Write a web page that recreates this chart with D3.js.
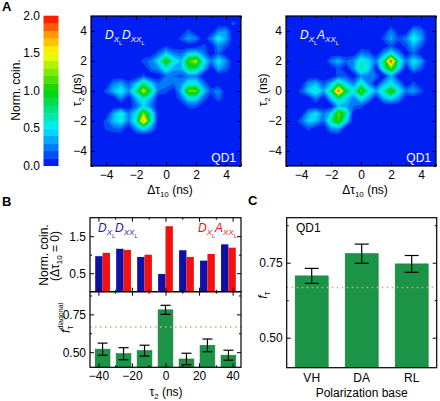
<!DOCTYPE html>
<html><head><meta charset="utf-8">
<script src="https://cdn.jsdelivr.net/npm/d3@7"></script>
<style>
body{margin:0;background:#fff}
svg text{font-family:"Liberation Sans",Arial,Helvetica,sans-serif}
</style>
</head><body>
<svg id="c" width="440" height="401"></svg>
<script>
// ---------------- DATA ----------------
const colorLevels = [0,0.1,0.2,0.3,0.4,0.5,0.6,0.7,0.8,0.9,1.0,1.1,1.2,1.3,1.4,1.5,1.6,1.7,1.8,1.9,2.0];
const colorbarTicks = [0,0.5,1.0,1.5,2.0];
const heatGrid = [-5,-4.5,-4,-3.5,-3,-2.5,-2,-1.5,-1,-0.5,0,0.5,1,1.5,2,2.5,3,3.5,4,4.5,5];
const heatTicks = [-4,-2,0,2,4];
const heatMinor = [-5,-3,-1,1,3,5];
// [Δτ10, τ2, normalized coincidences]  (non-listed grid points = 0)
const mapDD = [
  [-1.5,0,1.4],[-1,0,0.8],[-2,0,0.7],[-1.5,0.5,0.8],[-1.5,-0.5,0.65],[-1,0.5,0.45],[-2,0.5,0.4],[-1,-0.5,0.35],[-2,-0.5,0.35],[-0.5,0,0.2],[-2.5,0,0.3],[-1.5,1,0.15],
  [0,2,1.1],[0.5,2,0.6],[-0.5,2,0.5],[0,1.5,0.6],[0,2.5,0.45],[0.5,1.5,0.35],[-0.5,1.5,0.3],[0.5,2.5,0.25],[-0.5,2.5,0.2],[0,1,0.2],[0,3,0.1],[-1,2,0.25],[1,2,0.35],
  [2,2,1.35],[1.5,2,1.1],[1.5,1.5,0.85],[2,1.5,0.8],[2.5,2,0.55],[1,2,0.4],[2,2.5,0.5],[1.5,2.5,0.45],[1,1.5,0.35],[2.5,1.5,0.4],[2.5,2.5,0.25],[1,2.5,0.2],[1.5,1,0.25],[2,1,0.25],
  [2,0,1.2],[1.5,0,1.2],[2,0.5,0.55],[1.5,0.5,0.55],[2,-0.5,0.5],[1.5,-0.5,0.5],[2.5,0,0.45],[1,0,0.4],[2.5,0.5,0.25],[1,0.5,0.3],[2.5,-0.5,0.2],[1,-0.5,0.2],[1.5,-1,0.15],[2,-1,0.15],
  [-1.5,-2,1.8],[-1.5,-1.5,1.25],[-1,-2,0.65],[-2,-2,0.6],[-1,-1.5,0.65],[-2,-1.5,0.5],[-1.5,-1,0.45],[-1.5,-2.5,0.5],[-1,-1,0.25],[-2,-1,0.2],[-1,-2.5,0.3],[-2,-2.5,0.3],
  [-1,1.5,0.2],[-1.5,2,0.15],
  [-0.5,0.5,0.2],[0,0.5,0.25],[0.5,0.5,0.2],[0,0,0.15],[0.5,1,0.2],[1,1,0.15],
  [-3,0,0.55],[-3.5,0,0.4],[-3,0.5,0.35],[-3.5,0.5,0.25],[-3,-0.5,0.25],[-2.5,0.5,0.15],[-4,0,0.15],
  [-3,-1.5,0.6],[-3,-2,0.55],[-3.5,-2,0.4],[-3.5,-1.5,0.35],[-2.5,-1.5,0.25],[-2.5,-2,0.25],[-3.5,-2.5,0.2],[-4,-2.5,0.12],[-3,-2.5,0.2],[-4,-2,0.15],
  [3.5,3.5,0.55],[3.5,3,0.3],[4,3.5,0.35],[3,3.5,0.25],[4,4,0.3],[3.5,4,0.25],[4.5,4.5,0.15],[4,3,0.15],
  [1.5,3.5,0.35],[2,3.5,0.25],[1.5,4,0.15],[1,3.5,0.15],
  [2.5,3,0.15],
  [3.5,2,0.5],[3.5,1.5,0.35],[4,2,0.3],[3,2,0.25],[4,1.5,0.2],[3.5,2.5,0.2],
  [3.5,0,0.3],[3.5,-0.5,0.2],[3,0,0.15]
];
const mapDA = [
  [-1.5,0,1.95],[-1,0,0.9],[-2,0,0.75],[-1.5,0.5,0.8],[-1.5,-0.5,0.75],[-1,0.5,0.45],[-2,0.5,0.4],[-1,-0.5,0.45],[-2,-0.5,0.4],[-2.5,0,0.35],[-0.5,0,0.55],[-1.5,1,0.15],[-1.5,-1,0.4],
  [0,0,1.2],[0.5,0,0.6],[0,0.5,0.6],[0,-0.5,0.55],[0.5,0.5,0.3],[-0.5,0.5,0.25],[0.5,-0.5,0.3],[-0.5,-0.5,0.25],[1,0,0.35],[0,1,0.3],[0,-1,0.15],
  [2,0,1.15],[1.5,0,0.65],[2.5,0,0.55],[2,0.5,0.5],[2,-0.5,0.5],[1.5,-0.5,0.35],[2.5,-0.5,0.3],[1.5,0.5,0.35],[2.5,0.5,0.3],[3,0,0.25],
  [2,2,2.0],[2,1.5,1.15],[1.5,2,0.75],[2.5,2,0.65],[1.5,1.5,0.65],[2.5,1.5,0.5],[2,2.5,0.55],[1.5,2.5,0.3],[2.5,2.5,0.3],[2,1,0.35],[1,2,0.25],[3,2,0.25],[2,3,0.15],
  [0,2,0.6],[0,1.5,0.7],[0.5,1.5,0.5],[0.5,2,0.45],[-0.5,1.5,0.3],[-0.5,2,0.3],[0,2.5,0.25],[0.5,2.5,0.2],[0.5,1,0.25],
  [-1.5,-1.5,1.2],[-1.5,-2,1.1],[-1,-1.5,0.75],[-1,-2,0.5],[-2,-2,0.7],[-2,-1.5,0.45],[-1.5,-2.5,0.35],[-1,-1,0.35],[-2,-2.5,0.3],[-0.5,-1,0.2],[-2.5,-2,0.2],
  [-3,0,0.6],[-3.5,0,0.45],[-3,0.5,0.4],[-3.5,0.5,0.3],[-3,-0.5,0.25],[-4,0,0.15],[-2.5,0.5,0.15],
  [-3,-1.5,0.5],[-3.5,-2,0.45],[-3,-2,0.4],[-3.5,-1.5,0.35],[-2.5,-1.5,0.25],[-4,-2,0.2],[-3.5,-2.5,0.15],
  [-1.5,2,0.4],[-2,2,0.25],[-1,2,0.2],[-1.5,1.5,0.15],
  [3.5,3.5,0.6],[3.5,3,0.35],[4,3.5,0.35],[3,3.5,0.25],[4,4,0.25],[3.5,4,0.35],[3,3,0.15],[4,3,0.15],
  [3.5,2,0.5],[4,2,0.35],[3.5,1.5,0.35],[4,1.5,0.15],[3.5,2.5,0.2],
  [2,3.5,0.35],[2,4,0.25],[1.5,3.5,0.15],[2.5,3.5,0.15],
  [3.5,0,0.35],[3.5,0.5,0.15],[4,0,0.15],
  [1,1,0.2],[-1,1,0.15]
];
// Panel B
const tau2 = [-37.5,-25,-12.5,0,12.5,25,37.5];
const coinDD = [0.96,1.16,0.94,0.48,1.12,0.84,1.28];
const coinDA = [1.05,1.13,1.00,1.77,0.94,1.02,1.19];
const fDiag = [0.52,0.49,0.51,0.78,0.455,0.545,0.48];
const fDiagErr = [0.04,0.04,0.036,0.03,0.038,0.042,0.033];
const tauTicks = [-40,-20,0,20,40];
const tauMinor = [-30,-10,10,30];
const coinTicks = [0.5,1.5];
const coinMinor = [1.0];
const fTicks = [0.5,0.75];
const fMinor = [0.625,0.875];
// Panel C
const bases = ["VH","DA","RL"];
const fT = [0.706,0.78,0.746];
const fTErr = [0.025,0.032,0.028];
const classicalBound = 0.667;

// ---------------- DRAWING ----------------
const svg = d3.select("#c");
const jet = d3.scaleLinear()
  .domain([0,0.5,1.0,1.5,1.75,2.0])
  .range(["#0008f0","#00f0ff","#00d200","#ffff00","#ff9900","#ff0000"]).clamp(true);
const band = v => jet(Math.min(Math.floor(v*10+1e-6),19)/10 + 0.05);

function rich(parent, x, y, parts) {
  const t = parent.append("text").attr("x", x).attr("y", y);
  let prev = 0;
  parts.forEach(p => {
    const sh = p.shift || 0;
    const s = t.append("tspan").text(p.t).attr("font-size", p.size).attr("dy", sh - prev);
    if (p.italic) s.attr("font-style", "italic");
    if (p.dx) s.attr("dx", p.dx);
    prev = sh;
  });
  return t;
}
function styleAxis(g) {
  g.select(".domain").remove();
  g.selectAll("text").attr("font-size", 12).attr("fill", "#000");
  g.selectAll("line").attr("stroke", "#000").attr("stroke-width", 1);
  return g;
}
function frameAxes(x, y, xt, xm, yt, ym, fx, fy, opts) {
  const [x0, x1] = x.range(), [y0, y1] = y.range();
  const g = svg.append("g");
  styleAxis(g.append("g").attr("transform", `translate(0,${y0})`)
    .call(d3.axisBottom(x).tickValues(xt).tickSize(-4).tickPadding(4).tickFormat(opts.xlab ? fx : "")));
  styleAxis(g.append("g").attr("transform", `translate(0,${y0})`)
    .call(d3.axisBottom(x).tickValues(xm).tickSize(-2).tickFormat("")));
  styleAxis(g.append("g").attr("transform", `translate(0,${y1})`)
    .call(d3.axisTop(x).tickValues(xt).tickSize(-4).tickFormat("")));
  styleAxis(g.append("g").attr("transform", `translate(0,${y1})`)
    .call(d3.axisTop(x).tickValues(xm).tickSize(-2).tickFormat("")));
  styleAxis(g.append("g").attr("transform", `translate(${x0},0)`)
    .call(d3.axisLeft(y).tickValues(yt).tickSize(-4).tickPadding(4).tickFormat(fy)));
  styleAxis(g.append("g").attr("transform", `translate(${x0},0)`)
    .call(d3.axisLeft(y).tickValues(ym).tickSize(-2).tickFormat("")));
  styleAxis(g.append("g").attr("transform", `translate(${x1},0)`)
    .call(d3.axisRight(y).tickValues(yt).tickSize(-4).tickFormat("")));
  styleAxis(g.append("g").attr("transform", `translate(${x1},0)`)
    .call(d3.axisRight(y).tickValues(ym).tickSize(-2).tickFormat("")));
  g.append("rect").attr("x", x0).attr("y", y1).attr("width", x1 - x0).attr("height", y0 - y1)
    .attr("fill", "none").attr("stroke", "#000").attr("stroke-width", 1.2);
  return g;
}

// Panel letters
[["A",2,11],["B",2,206],["C",248,205]].forEach(([t,x,y]) =>
  svg.append("text").attr("x",x).attr("y",y).attr("font-size",13).attr("font-weight","bold").text(t));

// Colorbar
const yCB = d3.scaleLinear().domain([0,2]).range([165.7,15.7]);
svg.append("g").selectAll("rect").data(colorLevels.slice(0,20)).join("rect")
  .attr("x",43.5).attr("width",15)
  .attr("y", d => yCB(d + 0.1)).attr("height", d => yCB(d) - yCB(d + 0.1) + 0.3)
  .attr("fill", d => band(d));
svg.append("g").selectAll("text").data(colorbarTicks).join("text")
  .attr("x",40).attr("y", d => yCB(d)).attr("dy","0.35em").attr("text-anchor","end")
  .attr("font-size",12).text(d3.format(".1f"));
svg.append("text").attr("transform","translate(20,90) rotate(-90)").attr("text-anchor","middle")
  .attr("font-size",12).text("Norm. coin.");

// Heatmaps
function heat(left, cells, labelParts, tauX, id) {
  const x = d3.scaleLinear().domain([-5,5]).range([left, left + 150]);
  const y = d3.scaleLinear().domain([-5,5]).range([166, 16]);
  const n = heatGrid.length;
  const grid = new Array(n * n).fill(0);
  cells.forEach(([cx, cy, v]) => {
    const i = heatGrid.indexOf(cx), j = heatGrid.indexOf(cy);
    grid[j * n + i] = Math.max(grid[j * n + i], v);
  });
  const step = heatGrid[1] - heatGrid[0];
  svg.append("clipPath").attr("id", id).append("rect")
    .attr("x", left).attr("y", 16).attr("width", 150).attr("height", 150);
  const g = svg.append("g").attr("clip-path", `url(#${id})`);
  g.append("rect").attr("x", left).attr("y", 16).attr("width", 150).attr("height", 150).attr("fill", band(0));
  const contours = d3.contours().size([n, n]).thresholds(colorLevels.slice(1, 20))(grid);
  const proj = d3.geoTransform({
    point(px, py) { this.stream.point(x(heatGrid[0] + (px - 0.5) * step), y(heatGrid[0] + (py - 0.5) * step)); }
  });
  g.selectAll("path").data(contours).join("path")
    .attr("d", d3.geoPath(proj)).attr("fill", d => band(d.value));
  frameAxes(x, y, heatTicks, heatMinor, heatTicks, heatMinor, d3.format("d"), d3.format("d"), {xlab:true});
  rich(svg, left + 14, 39, labelParts).attr("fill", "#fff");
  svg.append("text").attr("x", left + 145).attr("y", 162).attr("text-anchor","end")
    .attr("font-size",12).attr("fill","#fff").text("QD1");
  rich(svg, left + 79, 194, [{t:"Δτ",size:12},{t:"10",size:8,shift:3},{t:" (ns)",size:12}])
    .attr("text-anchor","middle");
  rich(svg, 0, 0, [{t:"τ",size:12},{t:"2",size:8,shift:3},{t:" (ns)",size:12}])
    .attr("text-anchor","middle").attr("transform", `translate(${tauX},90) rotate(-90)`);
}
const lblDD = [{t:"D",size:12,italic:true},{t:"X",size:8,shift:3,italic:true},{t:"L",size:5.5,shift:6},
               {t:"D",size:12,italic:true},{t:"XX",size:8,shift:3,italic:true},{t:"L",size:5.5,shift:6}];
const lblDA = [{t:"D",size:12,italic:true},{t:"X",size:8,shift:3,italic:true},{t:"L",size:5.5,shift:6},
               {t:"A",size:12,italic:true},{t:"XX",size:8,shift:3,italic:true},{t:"L",size:5.5,shift:6}];
heat(91, mapDD, lblDD, 81, "clipA1");
heat(286, mapDA, lblDA, 267, "clipA2");

// Panel B
const xB = d3.scaleLinear().domain([-45,45]).range([90,241]);
const yBt = d3.scaleLinear().domain([0,2]).range([291.7,217.7]);
const yBb = d3.scaleLinear().domain([0.4,0.9]).range([367.3,291.7]);
const halfW = 4.4;
const gBt = svg.append("g");
gBt.selectAll(".b").data(tau2).join("rect")
  .attr("x", d => xB(d - halfW)).attr("width", d => xB(d) - xB(d - halfW))
  .attr("y", (d,i) => yBt(coinDD[i])).attr("height", (d,i) => yBt(0) - yBt(coinDD[i]))
  .attr("fill", "#1010a6");
gBt.selectAll(".r").data(tau2).join("rect")
  .attr("x", d => xB(d)).attr("width", d => xB(d + halfW) - xB(d))
  .attr("y", (d,i) => yBt(coinDA[i])).attr("height", (d,i) => yBt(0) - yBt(coinDA[i]))
  .attr("fill", "#f51010");
frameAxes(xB, yBt, tauTicks, tauMinor, coinTicks, coinMinor, d3.format("d"), d3.format(".1f"), {xlab:false});
rich(svg, 98, 232, lblDD).attr("fill", "#1a1aaa");
rich(svg, 198, 232, lblDA).attr("fill", "#f01010");

const gBb = svg.append("g");
gBb.selectAll("rect").data(tau2).join("rect")
  .attr("x", d => xB(d - halfW)).attr("width", d => xB(d + halfW) - xB(d - halfW))
  .attr("y", (d,i) => yBb(fDiag[i])).attr("height", (d,i) => yBb(0.4) - yBb(fDiag[i]))
  .attr("fill", "#1b9447").attr("stroke", "#147838").attr("stroke-width", 0.6);
svg.append("line").attr("x1", 90).attr("x2", 241).attr("y1", yBb(classicalBound)).attr("y2", yBb(classicalBound))
  .attr("stroke", "#f0a060").attr("stroke-width", 1.5).attr("stroke-dasharray", "1.5,3.5");
const eb = svg.append("g").attr("stroke", "#000").attr("stroke-width", 1.2);
tau2.forEach((t, i) => {
  const cx = xB(t), lo = yBb(fDiag[i] - fDiagErr[i]), hi = yBb(fDiag[i] + fDiagErr[i]);
  eb.append("line").attr("x1", cx).attr("x2", cx).attr("y1", lo).attr("y2", hi);
  eb.append("line").attr("x1", cx - 5).attr("x2", cx + 5).attr("y1", lo).attr("y2", lo);
  eb.append("line").attr("x1", cx - 5).attr("x2", cx + 5).attr("y1", hi).attr("y2", hi);
});
frameAxes(xB, yBb, tauTicks, tauMinor, fTicks, fMinor, d3.format("d"), d3.format(".2f"), {xlab:true});
rich(svg, 166, 396, [{t:"τ",size:12},{t:"2",size:8,shift:3},{t:" (ns)",size:12}]).attr("text-anchor","middle");
svg.append("text").attr("transform","translate(48,255) rotate(-90)").attr("text-anchor","middle")
  .attr("font-size",12).text("Norm. coin.");
rich(svg, 0, 0, [{t:"(Δτ",size:12},{t:"10",size:8,shift:3},{t:" = 0)",size:12}])
  .attr("text-anchor","middle").attr("transform","translate(59,256) rotate(-90)");
rich(svg, 0, 0, [{t:"f",size:12,italic:true},{t:"T",size:7,shift:3},{t:"diagonal",size:7,shift:-7,dx:-4}])
  .attr("transform","translate(70,333) rotate(-90)");

// Panel C
const xC = d3.scaleBand().domain(bases).range([286.7,436.7]).paddingInner(0.34).paddingOuter(0.17);
const yC = d3.scaleLinear().domain([0.4,0.9]).range([367.7,217.7]);
svg.append("g").selectAll("rect").data(bases).join("rect")
  .attr("x", d => xC(d)).attr("width", xC.bandwidth())
  .attr("y", (d,i) => yC(fT[i])).attr("height", (d,i) => yC(0.4) - yC(fT[i]))
  .attr("fill", "#1b9447").attr("stroke", "#147838").attr("stroke-width", 0.6);
svg.append("line").attr("x1", 286.7).attr("x2", 436.7).attr("y1", yC(classicalBound)).attr("y2", yC(classicalBound))
  .attr("stroke", "#f0a060").attr("stroke-width", 1.5).attr("stroke-dasharray", "1.5,3.5");
const ebc = svg.append("g").attr("stroke", "#000").attr("stroke-width", 1.2);
bases.forEach((b, i) => {
  const cx = xC(b) + xC.bandwidth() / 2, lo = yC(fT[i] - fTErr[i]), hi = yC(fT[i] + fTErr[i]);
  ebc.append("line").attr("x1", cx).attr("x2", cx).attr("y1", lo).attr("y2", hi);
  ebc.append("line").attr("x1", cx - 7).attr("x2", cx + 7).attr("y1", lo).attr("y2", lo);
  ebc.append("line").attr("x1", cx - 7).attr("x2", cx + 7).attr("y1", hi).attr("y2", hi);
});
const gC = svg.append("g");
styleAxis(gC.append("g").attr("transform","translate(0,367.7)")
  .call(d3.axisBottom(xC).tickSize(0).tickPadding(6)));
styleAxis(gC.append("g").attr("transform","translate(286.7,0)")
  .call(d3.axisLeft(yC).tickValues(fTicks).tickSize(-4).tickPadding(4).tickFormat(d3.format(".2f"))));
styleAxis(gC.append("g").attr("transform","translate(286.7,0)")
  .call(d3.axisLeft(yC).tickValues(fMinor).tickSize(-2).tickFormat("")));
styleAxis(gC.append("g").attr("transform","translate(436.7,0)")
  .call(d3.axisRight(yC).tickValues(fTicks).tickSize(-4).tickFormat("")));
styleAxis(gC.append("g").attr("transform","translate(436.7,0)")
  .call(d3.axisRight(yC).tickValues(fMinor).tickSize(-2).tickFormat("")));
gC.append("rect").attr("x",286.7).attr("y",217.7).attr("width",150).attr("height",150)
  .attr("fill","none").attr("stroke","#000").attr("stroke-width",1.2);
svg.append("text").attr("x",296).attr("y",232).attr("font-size",12).text("QD1");
svg.append("text").attr("x",361.7).attr("y",397).attr("text-anchor","middle").attr("font-size",12).text("Polarization base");
rich(svg, 0, 0, [{t:"f",size:12,italic:true},{t:"T",size:7,shift:3}])
  .attr("text-anchor","middle").attr("transform","translate(267,295) rotate(-90)");
</script>
</body></html>
